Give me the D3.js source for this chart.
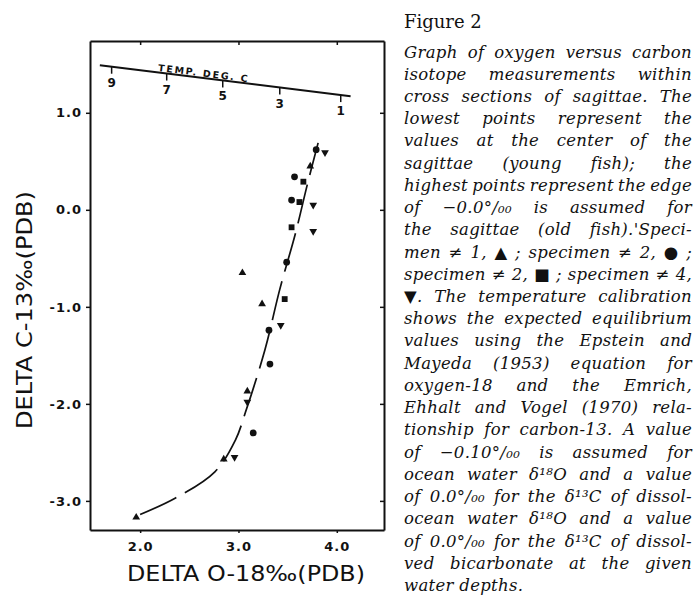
<!DOCTYPE html>
<html>
<head>
<meta charset="utf-8">
<script src="https://cdn.jsdelivr.net/npm/d3@7"></script>
<style>
  body { margin: 0; background: #fff; }
  .tick text { font-family: "DejaVu Sans", sans-serif; font-weight: bold; font-size: 13px; letter-spacing: 1px; fill: #111; }
  .caption { font-family: "DejaVu Serif", serif; font-style: italic; font-size: 16.5px; letter-spacing: 0.3px; fill: #111; }
</style>
</head>
<body>
<div id="chart"></div>
<script>
// data (delta O-18, delta C-13)
var xTicks = [2.0, 3.0, 4.0];
var yTicks = [1.0, 0.0, -1.0, -2.0, -3.0];

// specimen 1, triangles
var spec1 = [[3.73, 0.45], [3.04, -0.65], [3.24, -0.97], [3.09, -1.87], [2.85, -2.57], [1.96, -3.17]];
// specimen 2, circles
var spec2a = [[3.79, 0.62], [3.57, 0.34], [3.54, 0.10], [3.49, -0.54], [3.31, -1.24], [3.32, -1.59], [3.15, -2.30]];
// specimen 2, squares
var spec2b = [[3.66, 0.29], [3.62, 0.08], [3.54, -0.18], [3.47, -0.92]];
// specimen 4, inverted triangles
var spec4 = [[3.88, 0.59], [3.76, 0.05], [3.76, -0.22], [3.43, -1.19], [3.09, -1.98], [2.96, -2.55]];

// hand drawn fit curve
var fitO18 = [2.00, 2.36, 2.76, 2.97, 3.07, 3.27, 3.42, 3.58, 3.70, 3.81];
var fitC13 = [-3.14, -2.97, -2.70, -2.37, -2.09, -1.44, -0.82, -0.24, 0.26, 0.69];

// temperature calibration line
var tempEnds = [[1.59, 1.49], [4.14, 1.17]];
var tempLabels = ["9", "7", "5", "3", "1"];
var tempO18 = [1.71, 2.27, 2.84, 3.42, 4.04];

var captionLines = [
  "Graph of oxygen versus carbon",
  "isotope measurements within",
  "cross sections of sagittae. The",
  "lowest points represent the",
  "values at the center of the",
  "sagittae (young fish); the",
  "highest points represent the edge",
  "of \u22120.0°/\u2080\u2080 is assumed for",
  "the sagittae (old fish).'Speci-",
  "men \u2260 1, \u25B2 ; specimen \u2260 2, \u25CF ;",
  "specimen \u2260 2, \u25A0 ; specimen \u2260 4,",
  "\u25BC. The temperature calibration",
  "shows the expected equilibrium",
  "values using the Epstein and",
  "Mayeda (1953) equation for",
  "oxygen-18 and the Emrich,",
  "Ehhalt and Vogel (1970) rela-",
  "tionship for carbon-13. A value",
  "of \u22120.10°/\u2080\u2080 is assumed for",
  "ocean water \u03B4\u00B9\u2078O and a value",
  "of 0.0°/\u2080\u2080 for the \u03B4\u00B9\u00B3C of dissol-",
  "ocean water \u03B4\u00B9\u2078O and a value",
  "of 0.0°/\u2080\u2080 for the \u03B4\u00B9\u00B3C of dissol-",
  "ved bicarbonate at the given",
  "water depths."
];

var width = 696, height = 603;
var frame = { left: 90, right: 384, top: 41, bottom: 530 };

var svg = d3.select("#chart")
  .append("svg")
  .attr("width", width)
  .attr("height", height);

var x = d3.scaleLinear().domain([1.49, 4.48]).range([frame.left, frame.right]);
var y = d3.scaleLinear().domain([-3.3, 1.74]).range([frame.bottom, frame.top]);

var fmt = function(d) { return d3.format(".1f")(d).replace("\u2212", "-"); };

// axes, all four sides
svg.append("g")
  .attr("transform", "translate(" + frame.left + ",0)")
  .call(d3.axisLeft(y).tickValues(yTicks).tickSize(4).tickSizeOuter(0).tickPadding(4).tickFormat(fmt));

svg.append("g")
  .attr("transform", "translate(" + frame.right + ",0)")
  .call(d3.axisRight(y).tickValues(yTicks).tickSize(-4).tickSizeOuter(0).tickFormat(""));

svg.append("g")
  .attr("transform", "translate(0," + frame.top + ")")
  .call(d3.axisTop(x).tickValues(xTicks).tickSize(-4).tickSizeOuter(0).tickFormat(""));

svg.append("g")
  .attr("transform", "translate(0," + frame.bottom + ")")
  .call(d3.axisBottom(x).tickValues(xTicks).tickSize(3).tickSizeOuter(0).tickPadding(9).tickFormat(fmt));

svg.selectAll(".domain").attr("stroke", "#111").attr("stroke-width", 2);
svg.selectAll(".tick line").attr("stroke", "#111").attr("stroke-width", 1.5);

// axis titles
svg.append("text")
  .attr("x", 127)
  .attr("y", 581)
  .attr("textLength", 238)
  .attr("lengthAdjust", "spacingAndGlyphs")
  .style("font-family", "DejaVu Sans, sans-serif")
  .style("font-size", "21px")
  .style("fill", "#111")
  .text("DELTA O-18\u2030(PDB)");

svg.append("text")
  .attr("transform", "translate(32,429) rotate(-90)")
  .attr("textLength", 238)
  .attr("lengthAdjust", "spacingAndGlyphs")
  .style("font-family", "DejaVu Sans, sans-serif")
  .style("font-size", "21px")
  .style("fill", "#111")
  .text("DELTA C-13\u2030(PDB)");

// temperature calibration
var tempY = d3.scaleLinear()
  .domain([tempEnds[0][0], tempEnds[1][0]])
  .range([tempEnds[0][1], tempEnds[1][1]]);

svg.append("path")
  .datum(tempEnds)
  .attr("d", d3.line().x(function(d) { return x(d[0]); }).y(function(d) { return y(d[1]); }))
  .attr("fill", "none")
  .attr("stroke", "#111")
  .attr("stroke-width", 2);

var tt = svg.append("g").selectAll("g")
  .data(tempO18)
  .enter().append("g")
  .attr("transform", function(d) { return "translate(" + x(d) + "," + y(tempY(d)) + ")"; });

tt.append("line")
  .attr("y1", 0).attr("y2", 7)
  .attr("stroke", "#111").attr("stroke-width", 1.5);

tt.append("text")
  .attr("y", 20)
  .attr("text-anchor", "middle")
  .style("font-family", "DejaVu Sans, sans-serif")
  .style("font-weight", "bold")
  .style("font-size", "12px")
  .style("fill", "#111")
  .text(function(d, i) { return tempLabels[i]; });

var angle = Math.atan2(y(tempEnds[1][1]) - y(tempEnds[0][1]), x(tempEnds[1][0]) - x(tempEnds[0][0])) * 180 / Math.PI;
svg.append("text")
  .attr("transform", "translate(" + x(2.18) + "," + (y(tempY(2.18)) - 1.5) + ") rotate(" + angle + ")")
  .attr("textLength", 90)
  .attr("lengthAdjust", "spacing")
  .style("font-family", "DejaVu Sans, sans-serif")
  .style("font-weight", "bold")
  .style("font-size", "9.5px")
  .style("fill", "#111")
  .text("TEMP.  DEG.  C");

// fit curve
var fit = fitO18.map(function(d, i) { return [d, fitC13[i]]; });
svg.append("path")
  .datum(fit)
  .attr("d", d3.line().curve(d3.curveCatmullRom)
    .x(function(d) { return x(d[0]); })
    .y(function(d) { return y(d[1]); }))
  .attr("fill", "none")
  .attr("stroke", "#111")
  .attr("stroke-width", 1.7)
  .attr("stroke-dasharray", "40,10");

// points
function drawSpecimen(data, type, size, rot) {
  svg.append("g").selectAll("path")
    .data(data)
    .enter().append("path")
    .attr("d", d3.symbol().type(type).size(size))
    .attr("transform", function(d) { return "translate(" + x(d[0]) + "," + y(d[1]) + ") rotate(" + rot + ")"; })
    .attr("fill", "#111");
}
drawSpecimen(spec1, d3.symbolTriangle, 26, 0);
drawSpecimen(spec2a, d3.symbolCircle, 36, 0);
drawSpecimen(spec2b, d3.symbolSquare, 34, 0);
drawSpecimen(spec4, d3.symbolTriangle, 26, 180);

// figure caption
var colLeft = 404, colWidth = 288;

svg.append("text")
  .attr("x", colLeft)
  .attr("y", 28)
  .style("font-family", "DejaVu Serif, serif")
  .style("font-size", "18px")
  .style("fill", "#111")
  .text("Figure 2");

// justified lines: spread the words to the column width
svg.append("g").selectAll("text")
  .data(captionLines)
  .enter().append("text")
  .attr("class", "caption")
  .attr("x", colLeft)
  .attr("y", function(d, i) { return 57.5 + i * 22.23; })
  .text(function(d) { return d; })
  .each(function(d, i) {
    if (i == captionLines.length - 1) return;
    var gaps = d.split(" ").length - 1;
    var w = this.getComputedTextLength();
    if (gaps > 0) d3.select(this).style("word-spacing", ((colWidth - w) / gaps) + "px");
  });
</script>
</body>
</html>
